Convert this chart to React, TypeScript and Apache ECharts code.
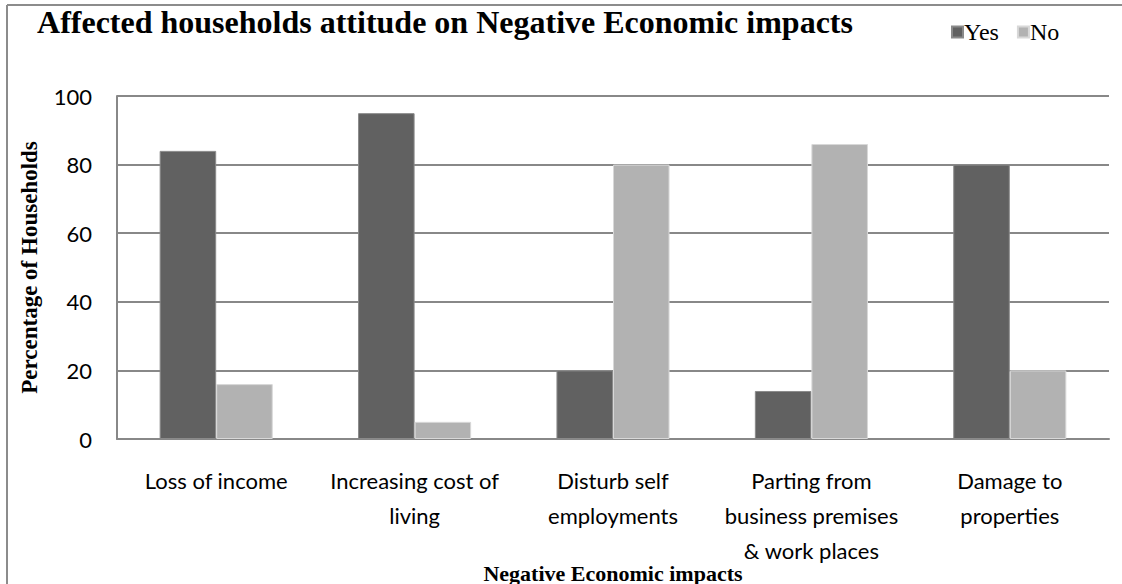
import React, { useEffect, useRef } from "react";
import * as echarts from "echarts";

const categories = [
  "Loss of income",
  "Increasing cost of\nliving",
  "Disturb self\nemployments",
  "Parting from\nbusiness premises\n& work places",
  "Damage to\nproperties",
];
const yesValues = [84, 95, 20, 14, 80];
const noValues = [16, 5, 80, 86, 20];
const seriesNames = ["Yes", "No"];
const titleText = "Affected households attitude on Negative Economic impacts";
const xAxisName = "Negative Economic impacts";
const yAxisName = "Percentage of Households";

export default function App() {
  const ref = useRef<HTMLDivElement>(null);
  useEffect(() => {
    if (!ref.current) return;
    const chart = echarts.init(ref.current, null, { renderer: "svg" });
    const serif = "'Liberation Serif', 'Times New Roman', serif";
    const sans = "Lato, 'Open Sans', sans-serif";
    chart.setOption({
      animation: false,
      backgroundColor: "#ffffff",
      title: {
        text: titleText,
        left: 440,
        top: 1,
        textAlign: "center",
        textStyle: { fontFamily: serif, fontWeight: "bold", fontSize: 32, color: "#000" },
      },
      legend: {
        data: seriesNames,
        left: 946,
        top: 15,
        itemWidth: 11,
        itemHeight: 11,
        itemGap: 18,
        icon: "rect",
        textStyle: { fontFamily: serif, fontSize: 24, color: "#000", padding: [0, 0, 0, -4] },
      },
      graphic: [
        { type: "line", shape: { x1: 7, y1: 5, x2: 1122, y2: 5 }, style: { stroke: "#8c8c8c", lineWidth: 2 } },
        { type: "line", shape: { x1: 7, y1: 5, x2: 7, y2: 584 }, style: { stroke: "#8c8c8c", lineWidth: 2 } },
      ],
      grid: { left: 117, right: 13, top: 96, bottom: 145, containLabel: false, outerBoundsMode: "none" },
      xAxis: {
        type: "category",
        data: categories,
        name: xAxisName,
        nameLocation: "middle",
        nameGap: 123,
        nameMoveOverlap: false,
        nameTextStyle: { fontFamily: serif, fontWeight: "bold", fontSize: 22, color: "#000", verticalAlign: "top" },
        axisLine: { lineStyle: { color: "#888888", width: 2 } },
        axisTick: { show: false },
        axisLabel: {
          interval: 0,
          margin: 24,
          fontFamily: sans,
          fontSize: 22,
          lineHeight: 35,
          color: "#000",
        },
      },
      yAxis: {
        type: "value",
        min: 0,
        max: 100,
        interval: 20,
        name: yAxisName,
        nameLocation: "middle",
        nameGap: 76,
        nameMoveOverlap: false,
        nameTextStyle: { fontFamily: serif, fontWeight: "bold", fontSize: 23, color: "#000" },
        axisLine: { show: true, lineStyle: { color: "#888888", width: 2 } },
        axisTick: { show: false },
        axisLabel: { margin: 25, fontFamily: sans, fontSize: 22, color: "#000" },
        splitLine: { lineStyle: { color: "#888888", width: 2 } },
      },
      series: [
        {
          name: seriesNames[0],
          type: "bar",
          data: yesValues,
          barGap: "0%",
          barCategoryGap: "43%",
          itemStyle: { color: "#616161", borderColor: "#8a8a8a", borderWidth: 1 },
        },
        {
          name: seriesNames[1],
          type: "bar",
          data: noValues,
          itemStyle: { color: "#b2b2b2", borderColor: "#d8d8d8", borderWidth: 1 },
        },
      ],
    });
    return () => chart.dispose();
  }, []);
  return <div ref={ref} style={{ width: 1122, height: 584, position: "absolute", left: 0, top: 0 }} />;
}
